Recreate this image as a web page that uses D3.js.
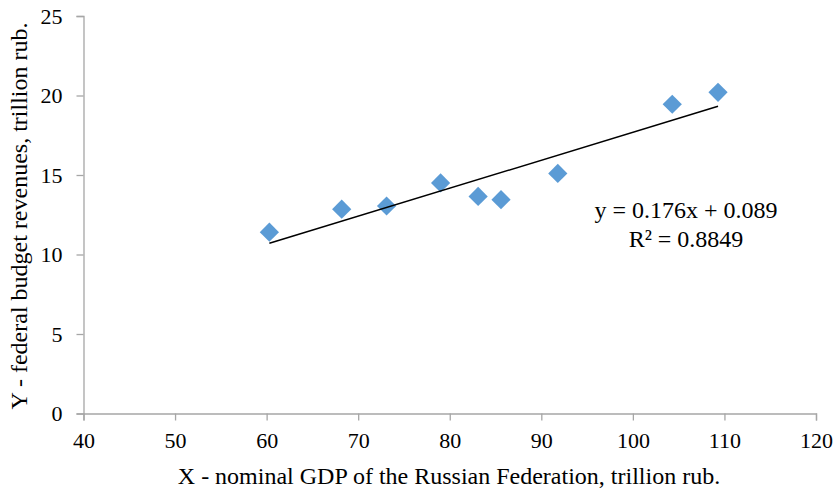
<!DOCTYPE html>
<html>
<head>
<meta charset="utf-8">
<script src="https://cdn.jsdelivr.net/npm/d3@7"></script>
<style>
  body { margin: 0; background: #fff; }
  text { font-family: "Liberation Serif", "Times New Roman", serif; fill: #000; }
</style>
</head>
<body>
<svg id="chart" width="836" height="492"></svg>
<script>
// GDP (X) and federal budget revenues (Y), trillion rub.
var gdp = [60.3, 68.2, 73.1, 79.0, 83.1, 85.6, 91.8, 104.3, 109.3];
var revenues = [11.4, 12.85, 13.05, 14.5, 13.65, 13.45, 15.1, 19.45, 20.2];
var xTicks = [40, 50, 60, 70, 80, 90, 100, 110, 120];
var yTicks = [0, 5, 10, 15, 20, 25];
var slope = 0.176, intercept = 0.089;
var equationLines = ["y = 0.176x + 0.089", "R\u00b2 = 0.8849"];

var svg = d3.select("#chart");

var x = d3.scaleLinear().domain([40, 120]).range([83.5, 816]);
var y = d3.scaleLinear().domain([0, 25]).range([413.5, 16]);

var axisColor = "#a6a6a6";

// x axis
var xAxis = svg.append("g")
    .attr("transform", "translate(0," + y(0) + ")")
    .call(d3.axisBottom(x).tickValues(xTicks).tickSize(7).tickPadding(12).tickFormat(d3.format("d")));
xAxis.select(".domain").attr("stroke", axisColor).attr("stroke-width", 1.3);
xAxis.selectAll(".tick line").attr("stroke", axisColor).attr("stroke-width", 1.3);
xAxis.selectAll(".tick text")
    .attr("font-family", "Liberation Serif")
    .attr("font-size", 22)
    .attr("fill", "#000");

// y axis
var yAxis = svg.append("g")
    .attr("transform", "translate(" + x(40) + ",0)")
    .call(d3.axisLeft(y).tickValues(yTicks).tickSize(7).tickPadding(14).tickFormat(d3.format("d")));
yAxis.select(".domain").attr("stroke", axisColor).attr("stroke-width", 1.3);
yAxis.selectAll(".tick line").attr("stroke", axisColor).attr("stroke-width", 1.3);
yAxis.selectAll(".tick text")
    .attr("font-family", "Liberation Serif")
    .attr("font-size", 22)
    .attr("fill", "#000");

// points
var diamond = d3.symbol().type(d3.symbolSquare).size(185);
svg.append("g")
  .selectAll("path")
    .data(gdp)
  .enter().append("path")
    .attr("d", diamond)
    .attr("transform", function(d, i) {
        return "translate(" + x(d) + "," + y(revenues[i]) + ") rotate(45)";
    })
    .attr("fill", "#5b9bd5");

// trend line
var xMin = d3.min(gdp), xMax = d3.max(gdp);
svg.append("line")
    .attr("x1", x(xMin))
    .attr("y1", y(slope * xMin + intercept))
    .attr("x2", x(xMax))
    .attr("y2", y(slope * xMax + intercept))
    .attr("stroke", "#000")
    .attr("stroke-width", 1.5);

// equation
svg.append("g")
  .selectAll("text")
    .data(equationLines)
  .enter().append("text")
    .attr("x", 686)
    .attr("y", function(d, i) { return 218 + i * 29; })
    .attr("text-anchor", "middle")
    .attr("font-size", 24)
    .text(function(d) { return d; });

// axis titles
svg.append("text")
    .attr("x", 449)
    .attr("y", 484)
    .attr("text-anchor", "middle")
    .attr("font-size", 24)
    .text("X - nominal GDP of the Russian Federation, trillion rub.");

svg.append("text")
    .attr("transform", "translate(27,216) rotate(-90)")
    .attr("text-anchor", "middle")
    .attr("font-size", 24)
    .text("Y - federal budget revenues, trillion rub.");
</script>
</body>
</html>
